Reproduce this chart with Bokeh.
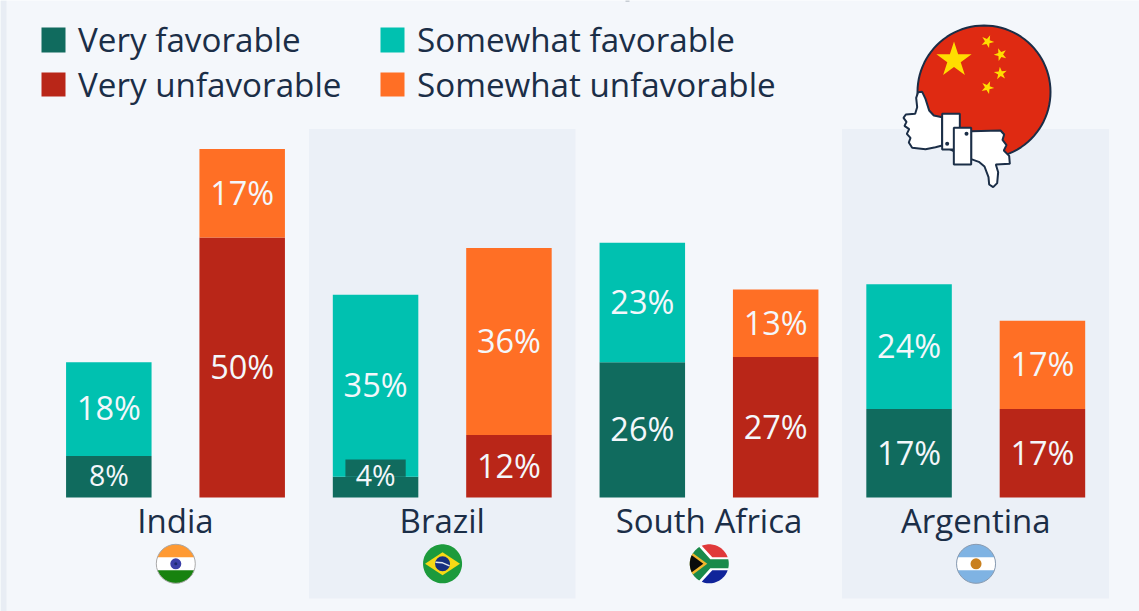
import math
from bokeh.plotting import figure
from bokeh.models import Range1d
from bokeh.core.properties import value
from bokeh.embed import file_html
from bokeh.resources import INLINE

countries = ["India", "Brazil", "South Africa", "Argentina"]
very_fav = [8, 4, 26, 17]
some_fav = [18, 35, 23, 24]
very_unf = [50, 12, 27, 17]
some_unf = [17, 36, 13, 17]
legend_top = ["Very favorable", "Somewhat favorable"]
legend_bottom = ["Very unfavorable", "Somewhat unfavorable"]

W, H = 1139, 611
BG = "#f4f7fb"
BAND = "#ebf0f7"
INK = "#1b2e47"
C_VF, C_SF, C_VU, C_SU = "#106b5e", "#00c1b0", "#b92618", "#ff6f25"
FONT = value("Open Sans")

PITCH, FIRST = 266.75, 175.0
BASE, PER = 497.0, 5.2

p = figure(width=W, height=H, output_backend="svg", toolbar_location=None,
           x_range=Range1d(-FIRST / PITCH, (W - FIRST) / PITCH),
           y_range=Range1d((BASE - H) / PER, BASE / PER),
           background_fill_color=BG, border_fill_color=BG,
           min_border=0, outline_line_color=None)
p.xaxis.visible = False
p.yaxis.visible = False
p.grid.visible = False
p.extra_x_ranges["px"] = Range1d(0, W)
p.extra_y_ranges["px"] = Range1d(H, 0)
PX = dict(x_range_name="px", y_range_name="px")

# page edge, clipped title descender and alternating panels
p.quad(left=[0], right=[6], top=[0], bottom=[H], fill_color="#e8edf4", line_color=None, **PX)
p.quad(left=[625], right=[629], top=[0], bottom=[1], fill_color="#9aa3ad", line_color=None, **PX)
p.quad(left=[308.5, 841.5], right=[575, 1108.5], top=[128.5, 128.5], bottom=[598, 598],
       fill_color=BAND, line_color=None, **PX)

# bars
idx = list(range(4))
OFF, BW = 0.25, 85.5 / PITCH
xl = [i - OFF for i in idx]
xr = [i + OFF for i in idx]
p.vbar(x=xl, width=BW, bottom=0, top=very_fav, fill_color=C_VF, line_color=None)
p.vbar(x=xl, width=BW, bottom=very_fav, top=[a + b for a, b in zip(very_fav, some_fav)],
       fill_color=C_SF, line_color=None)
p.vbar(x=xr, width=BW, bottom=0, top=very_unf, fill_color=C_VU, line_color=None)
p.vbar(x=xr, width=BW, bottom=very_unf, top=[a + b for a, b in zip(very_unf, some_unf)],
       fill_color=C_SU, line_color=None)

# backing box behind labels that do not fit in their segment
small = [i for i in idx if very_fav[i] < 6]
p.quad(left=[i - OFF - 0.113 for i in small], right=[i - OFF + 0.113 for i in small],
       bottom=[very_fav[i] for i in small], top=[very_fav[i] + 3.3 for i in small],
       fill_color=C_VF, line_color=None)


def labels(xs, bottoms, vals):
    for x, b, v in zip(xs, bottoms, vals):
        sz = 28.5 if v < 10 else 32.5
        y = b + v / 2 + 0.25
        if v < 6:
            y = b + v + 0.25
        p.text(x=[x], y=[y], text=[f"{v}%"], text_font=FONT,
               text_font_size=f"{sz}px", text_color="#f4f7fb",
               text_align="center", text_baseline="middle")


labels(xl, [0] * 4, very_fav)
labels(xl, very_fav, some_fav)
labels(xr, [0] * 4, very_unf)
labels(xr, very_unf, some_unf)

# categories
p.text(x=idx, y=[(BASE - 519.5) / PER] * 4, text=countries, text_font=FONT, text_font_size="33px",
       text_color=INK, text_align="center", text_baseline="middle")

# legend
p.quad(left=[41, 380], right=[65, 404], top=[27, 27], bottom=[52, 52],
       fill_color=[C_VF, C_SF], line_color=None, **PX)
p.quad(left=[41, 380], right=[65, 404], top=[72, 72], bottom=[96, 96],
       fill_color=[C_VU, C_SU], line_color=None, **PX)
p.text(x=[77.5, 416.5], y=[38.5, 38.5], text=legend_top, text_font=FONT, text_font_size="33.2px",
       text_color=INK, text_baseline="middle", **PX)
p.text(x=[77.5, 416.5], y=[83.5, 83.5], text=legend_bottom, text_font=FONT, text_font_size="33.2px",
       text_color=INK, text_baseline="middle", **PX)


# ---------- decorative icons (page pixels) ----------
def circ(cx, cy, r, n=96):
    return [(cx + r * math.cos(2 * math.pi * k / n), cy + r * math.sin(2 * math.pi * k / n)) for k in range(n)]


def clip(poly, cx, cy, r, n=96):
    """Clip polygon to a circle, approximated by a convex polygon."""
    c = circ(cx, cy, r, n)
    out = list(poly)
    for k in range(n):
        ax, ay = c[k]
        bx, by = c[(k + 1) % n]
        side = lambda q: (bx - ax) * (q[1] - ay) - (by - ay) * (q[0] - ax)
        res = []
        for j in range(len(out)):
            s, e = out[j], out[(j + 1) % len(out)]
            fs, fe = side(s), side(e)
            if fs >= 0:
                res.append(s)
            if fs * fe < 0:
                t = fs / (fs - fe)
                res.append((s[0] + t * (e[0] - s[0]), s[1] + t * (e[1] - s[1])))
        out = res
        if not out:
            break
    return out


def fill(poly, color, line=None, lw=0):
    p.patch(x=[q[0] for q in poly], y=[q[1] for q in poly], fill_color=color,
            line_color=line, line_width=lw, **PX)


def star(cx, cy, r, rot=0.0):
    pts = []
    for k in range(10):
        rr = r if k % 2 == 0 else r * 0.382
        a = -math.pi / 2 + rot + k * math.pi / 5
        pts.append((cx + rr * math.cos(a), cy + rr * math.sin(a)))
    return pts


def zoomed(pts):
    return [(880 + a / 3, b / 3) for a, b in pts]


# China badge
fill(circ(983.5, 91.5, 66.5), "#df2a12", INK, 2)
fill(star(953.5, 59.5, 18.5), "#ffdd00")
for sx, sy, rot in [(987, 41, 0.4), (1000, 54, 0.9), (1000, 73, -0.1), (987, 87, 0.4)]:
    fill(star(sx, sy, 6.8, rot), "#ffdd00")

up = zoomed([(185, 350), (160, 345), (146, 330), (135, 295), (125, 274), (113, 275), (107, 292), (110, 320),
             (104, 340), (76, 342), (69, 352), (78, 364), (72, 376), (86, 386), (79, 400), (90, 412), (85, 426),
             (95, 442), (135, 446), (165, 440), (185, 435)])
fill(up, "#ffffff", INK, 2)
fill(zoomed([(185, 340), (238, 340), (238, 447), (185, 447)]), "#ffffff", INK, 2)
down = zoomed([(272, 392), (360, 390), (371, 402), (366, 418), (378, 434), (370, 450), (386, 466), (388, 490),
               (346, 492), (353, 515), (350, 548), (338, 560), (326, 552), (324, 530), (312, 498), (295, 484),
               (272, 476)])
fill(down, "#ffffff", INK, 2)
fill(zoomed([(220, 382), (272, 382), (272, 492), (220, 492)]), "#ffffff", INK, 2)
p.scatter(x=[880 + 200 / 3, 880 + 258 / 3], y=[430 / 3, 400 / 3], size=4, fill_color=INK, line_color=None, **PX)

# country flags
R, CY = 19.5, 563.3
FX = 175.3
centers = [FX + PITCH * i for i in idx]
cx = centers[0]
fill(circ(cx, CY, R), "#ffffff")
fill(clip([(cx - R, CY - R), (cx + R, CY - R), (cx + R, CY - 6.5), (cx - R, CY - 6.5)], cx, CY, R), "#ff9a33")
fill(clip([(cx - R, CY + 6.5), (cx + R, CY + 6.5), (cx + R, CY + R), (cx - R, CY + R)], cx, CY, R), "#17820f")
p.scatter(x=[cx], y=[CY], size=11, fill_color="#3b3fa8", line_color=None, **PX)
p.scatter(x=[cx], y=[CY], size=3, fill_color="#1d2a6e", line_color=None, **PX)
p.scatter(x=[cx], y=[CY], size=39, fill_color=None, line_color="#a9a9a9", line_width=1, **PX)

cx = centers[1]
fill(circ(cx, CY, R), "#1c9a3c")
fill([(cx - 17.5, CY), (cx, CY - 11.5), (cx + 17.5, CY), (cx, CY + 11.5)], "#f7d915")
p.scatter(x=[cx], y=[CY], size=15, fill_color="#17307f", line_color=None, **PX)
p.line(x=[cx - 7, cx, cx + 7], y=[CY - 1.5, CY - 1, CY + 2], line_color="#dfe6ee", line_width=1.4, **PX)

cx = centers[2]
fill(circ(cx, CY, R), "#ffffff")
fill(clip([(cx - 9, CY - R), (cx + R, CY - R), (cx + R, CY - 6.5), (cx + 3, CY - 6.5)], cx, CY, R), "#e0393a")
fill(clip([(cx - 9, CY + R), (cx + R, CY + R), (cx + R, CY + 6.5), (cx + 3, CY + 6.5)], cx, CY, R), "#10249a")
fill(clip([(cx - R, CY - R), (cx - 12.5, CY - R), (cx + 1, CY - 4.5), (cx + R, CY - 4.5), (cx + R, CY + 4.5),
           (cx + 1, CY + 4.5), (cx - 12.5, CY + R), (cx - R, CY + R)], cx, CY, R), "#1a8a4a")
fill(clip([(cx - R, CY - 13), (cx - 2, CY), (cx - R, CY + 13)], cx, CY, R), "#f2b62d")
fill(clip([(cx - R, CY - 10), (cx - 6, CY), (cx - R, CY + 10)], cx, CY, R), "#0b0b0b")

cx = centers[3]
fill(circ(cx, CY, R), "#7fb3e3")
fill(clip([(cx - R, CY - 6.5), (cx + R, CY - 6.5), (cx + R, CY + 6.5), (cx - R, CY + 6.5)], cx, CY, R), "#ffffff")
p.scatter(x=[cx], y=[CY], size=11, fill_color="#c9801f", line_color=None, **PX)
p.scatter(x=[cx], y=[CY], size=39, fill_color=None, line_color="#8a9bb0", line_width=1, **PX)

open("out.html", "w").write(file_html(p, INLINE))
